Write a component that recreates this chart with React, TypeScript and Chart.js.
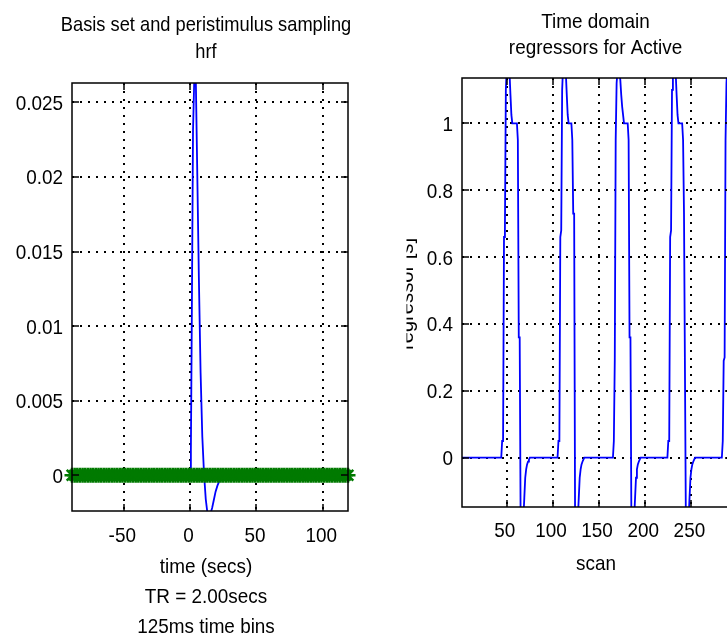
import React, { useEffect, useRef } from "react";
import { Chart, registerables } from "chart.js";

Chart.register(...registerables);

// ---------- Left panel data: basis function (hrf) and peristimulus sampling ----------
const HRF_TIME = [0, 0.6, 1.3, 2.2, 3.2, 4.3, 5.3, 6.6, 7.9, 9.2, 10.5, 11.8, 13.0, 14.3, 15.6, 16.6, 17.8, 19.2, 20.6, 22.0, 24.0, 26.0, 32.0];
const HRF_VALUE = [0, 0.0017, 0.0106, 0.0231, 0.0268, 0.0266, 0.0209, 0.0133, 0.0069, 0.0026, 0.0001, -0.0016, -0.0025, -0.0027, -0.0025, -0.0022, -0.0017, -0.0011, -0.0007, -0.0004, -0.0001, 0, 0];
const PST_TIME = [
  -89, -87, -85, -83, -81, -79, -77, -75, -73, -71, -69, -67, -65, -63, -61, -59, -57, -55, -53, -51,
  -49, -47, -45, -43, -41, -39, -37, -35, -33, -31, -29, -27, -25, -23, -21, -19, -17, -15, -13, -11,
  -9, -7, -5, -3, -1, 1, 3, 5, 7, 9, 11, 13, 15, 17, 19, 21, 23, 25, 27, 29, 31, 33, 35, 37, 39,
  41, 43, 45, 47, 49, 51, 53, 55, 57, 59, 61, 63, 65, 67, 69, 71, 73, 75, 77, 79, 81, 83, 85, 87, 89,
  91, 93, 95, 97, 99, 101, 103, 105, 107, 109, 111, 113, 115, 117, 119,
];
const PST_VALUE = PST_TIME.map(() => 0);
const LEFT_X_TICKS = [-50, 0, 50, 100];
const LEFT_X_LABELS = ["-50", "0", "50", "100"];
const LEFT_Y_TICKS = [0, 0.005, 0.01, 0.015, 0.02, 0.025];
const LEFT_Y_LABELS = ["0", "0.005", "0.01", "0.015", "0.02", "0.025"];
const LEFT_X_RANGE = [-89, 119];
const LEFT_Y_RANGE = [-0.0024, 0.0263];

// ---------- Right panel data: time-domain regressor for "Active" ----------
const SCAN = [
  1, 44, 45, 46, 47, 48, 49, 50, 51, 52, 53, 54, 55, 56,
  61, 62, 63, 64, 65, 66, 67, 68, 69, 70, 71, 72, 73, 74, 75,
  105, 106, 107, 108, 109, 110, 111, 112, 113, 114, 115, 116, 117,
  120, 121, 122, 123, 124, 125, 126, 127, 128, 129, 130, 131, 132, 133, 134,
  165, 166, 167, 168, 169, 170, 171, 172, 173, 174, 175, 176, 177,
  181, 182, 183, 184, 185, 186, 187, 188, 189, 190, 191, 192, 193, 194, 195,
  224, 225, 226, 227, 228, 229, 230, 231, 232, 233, 234, 235, 236,
  240, 241, 242, 243, 244, 245, 246, 247, 248, 249, 250, 251, 252, 253, 254,
  283, 284, 285, 286, 287, 288, 289, 290, 291, 292, 293, 294, 295,
];
const REGRESSOR = [
  0, 0, 0.05, 0.05, 0.66, 0.68, 1.1, 1.17, 1.18, 1.16, 1.15, 1.085, 1.025, 1.0,
  1.0, 0.95, 0.36, 0.36, -0.18, -0.22, -0.22, -0.18, -0.12, -0.06, -0.035, -0.02, -0.012, -0.006, 0,
  0, 0.05, 0.05, 0.66, 0.68, 1.1, 1.17, 1.18, 1.16, 1.15, 1.085, 1.025, 1.0,
  1.0, 0.95, 0.73, 0.73, -0.18, -0.21, -0.22, -0.18, -0.12, -0.06, -0.035, -0.02, -0.012, -0.006, 0,
  0, 0.05, 0.29, 0.95, 1.12, 1.16, 1.18, 1.15, 1.13, 1.085, 1.05, 1.025, 1.0,
  1.0, 0.95, 0.36, 0.36, -0.18, -0.22, -0.22, -0.18, -0.12, -0.06, -0.035, -0.02, -0.012, -0.006, 0,
  0, 0.05, 0.05, 0.66, 0.68, 1.1, 1.17, 1.18, 1.16, 1.15, 1.085, 1.025, 1.0,
  1.0, 0.95, 0.73, 0.73, -0.18, -0.22, -0.22, -0.18, -0.12, -0.06, -0.035, -0.02, -0.012, -0.006, 0,
  0, 0.05, 0.29, 0.3, 0.95, 1.12, 1.17, 1.18, 1.16, 1.15, 1.085, 1.025, 1.0,
];
const RIGHT_X_TICKS = [50, 100, 150, 200, 250];
const RIGHT_X_LABELS = ["50", "100", "150", "200", "250"];
const RIGHT_Y_TICKS = [0, 0.2, 0.4, 0.6, 0.8, 1];
const RIGHT_Y_LABELS = ["0", "0.2", "0.4", "0.6", "0.8", "1"];
const RIGHT_X_RANGE = [1.5, 294];
const RIGHT_Y_RANGE = [-0.1474, 1.1355];

const FONT = '"Liberation Sans", Arial, Helvetica, sans-serif';

type TextItem = { text: string; x: number; y: number; sx: number; align: CanvasTextAlign };

type AxesCfg = {
  xTicks: number[];
  xLabels: string[];
  yTicks: number[];
  yLabels: string[];
  xLabelDx: number;
  xLabelBaseline: number;
  yLabelRight: number;
  texts: TextItem[];
  rotated?: { text: string; x: number; y: number; sx: number; clipLeft: number };
};

function drawText(ctx: CanvasRenderingContext2D, t: TextItem, size = 21) {
  ctx.save();
  ctx.translate(t.x, t.y);
  ctx.scale(t.sx, 1);
  ctx.font = `${size}px ${FONT}`;
  ctx.fillStyle = "#000";
  ctx.textAlign = t.align;
  ctx.textBaseline = "alphabetic";
  ctx.fillText(t.text, 0, 0);
  ctx.restore();
}

function makeAxesPlugin(cfg: AxesCfg) {
  return {
    id: "matlabAxes",
    beforeDatasetsDraw(chart: any) {
      const { ctx, chartArea: a, scales } = chart;
      const xs = scales.x;
      const ys = scales.y;
      ctx.save();
      ctx.strokeStyle = "#000";
      ctx.lineWidth = 2;
      ctx.setLineDash([2, 6]);
      ctx.beginPath();
      cfg.xTicks.forEach((v) => {
        const px = Math.round(xs.getPixelForValue(v));
        if (px < a.left || px > a.right) return;
        ctx.moveTo(px, a.top);
        ctx.lineTo(px, a.bottom);
      });
      cfg.yTicks.forEach((v) => {
        const py = Math.round(ys.getPixelForValue(v));
        if (py < a.top || py > a.bottom) return;
        ctx.moveTo(a.left, py);
        ctx.lineTo(a.right, py);
      });
      ctx.stroke();
      ctx.restore();
    },
    afterDraw(chart: any) {
      const { ctx, chartArea: a, scales } = chart;
      const xs = scales.x;
      const ys = scales.y;
      const tl = 7;
      ctx.save();
      ctx.strokeStyle = "#000";
      ctx.lineWidth = 1.5;
      ctx.setLineDash([]);
      ctx.strokeRect(a.left, a.top, a.right - a.left, a.bottom - a.top);
      ctx.beginPath();
      cfg.xTicks.forEach((v) => {
        const px = Math.round(xs.getPixelForValue(v));
        if (px < a.left || px > a.right) return;
        ctx.moveTo(px, a.bottom);
        ctx.lineTo(px, a.bottom - tl);
        ctx.moveTo(px, a.top);
        ctx.lineTo(px, a.top + tl);
      });
      cfg.yTicks.forEach((v) => {
        const py = Math.round(ys.getPixelForValue(v));
        if (py < a.top || py > a.bottom) return;
        ctx.moveTo(a.left, py);
        ctx.lineTo(a.left + tl, py);
        ctx.moveTo(a.right, py);
        ctx.lineTo(a.right - tl, py);
      });
      ctx.stroke();
      ctx.restore();

      cfg.xTicks.forEach((v, i) => {
        const px = xs.getPixelForValue(v);
        drawText(ctx, { text: cfg.xLabels[i], x: px + cfg.xLabelDx, y: cfg.xLabelBaseline, sx: 0.9, align: "center" });
      });
      cfg.yTicks.forEach((v, i) => {
        const py = ys.getPixelForValue(v);
        drawText(ctx, { text: cfg.yLabels[i], x: cfg.yLabelRight, y: py + 7.5, sx: 0.9, align: "right" });
      });
      cfg.texts.forEach((t) => drawText(ctx, t));

      if (cfg.rotated) {
        const r = cfg.rotated;
        ctx.save();
        ctx.beginPath();
        ctx.rect(r.clipLeft, 0, chart.width, chart.height);
        ctx.clip();
        ctx.translate(r.x, r.y);
        ctx.rotate(-Math.PI / 2);
        ctx.scale(r.sx, 1);
        ctx.font = `21px ${FONT}`;
        ctx.fillStyle = "#000";
        ctx.textAlign = "center";
        ctx.textBaseline = "alphabetic";
        ctx.fillText(r.text, 0, 0);
        ctx.restore();
      }
    },
  };
}

function baseOptions(xr: number[], yr: number[], padding: any) {
  return {
    responsive: false,
    maintainAspectRatio: false,
    devicePixelRatio: 1,
    animation: false as const,
    events: [] as any[],
    layout: { padding },
    plugins: { legend: { display: false }, tooltip: { enabled: false }, title: { display: false } },
    scales: {
      x: { type: "linear" as const, display: false, min: xr[0], max: xr[1] },
      y: { type: "linear" as const, display: false, min: yr[0], max: yr[1] },
    },
  };
}

function LeftPanel() {
  const ref = useRef<HTMLCanvasElement>(null);
  useEffect(() => {
    if (!ref.current) return;
    const plugin = makeAxesPlugin({
      xTicks: LEFT_X_TICKS,
      xLabels: LEFT_X_LABELS,
      yTicks: LEFT_Y_TICKS,
      yLabels: LEFT_Y_LABELS,
      xLabelDx: -1.5,
      xLabelBaseline: 541.5,
      yLabelRight: 63,
      texts: [
        { text: "Basis set and peristimulus sampling", x: 206, y: 31, sx: 0.87, align: "center" },
        { text: "hrf", x: 206, y: 58, sx: 0.87, align: "center" },
        { text: "time (secs)", x: 206, y: 573, sx: 0.9, align: "center" },
        { text: "TR = 2.00secs", x: 206, y: 603, sx: 0.9, align: "center" },
        { text: "125ms time bins", x: 206, y: 633, sx: 0.9, align: "center" },
      ],
    });
    const chart = new Chart(ref.current, {
      type: "line",
      data: {
        datasets: [
          {
            data: PST_TIME.map((t, i) => ({ x: t, y: PST_VALUE[i] })),
            showLine: false,
            pointStyle: "star",
            pointRadius: 7.5,
            pointBorderWidth: 2.5,
            pointBorderColor: "#007a00",
            pointBackgroundColor: "#007a00",
            borderColor: "#007a00",
            clip: 12,
          } as any,
          {
            data: HRF_TIME.map((t, i) => ({ x: t, y: HRF_VALUE[i] })),
            borderColor: "#0000ff",
            borderWidth: 1.8,
            pointRadius: 0,
            tension: 0,
            fill: false,
            clip: 0,
          } as any,
        ],
      },
      options: baseOptions(LEFT_X_RANGE, LEFT_Y_RANGE, { left: 72, top: 83, right: 22, bottom: 128 }) as any,
      plugins: [plugin as any],
    });
    return () => chart.destroy();
  }, []);
  return (
    <canvas
      ref={ref}
      width={370}
      height={639}
      style={{ position: "absolute", left: 0, top: 0, width: 370, height: 639 }}
    />
  );
}

function RightPanel() {
  const ref = useRef<HTMLCanvasElement>(null);
  useEffect(() => {
    if (!ref.current) return;
    const OFF = 380;
    const plugin = makeAxesPlugin({
      xTicks: RIGHT_X_TICKS,
      xLabels: RIGHT_X_LABELS,
      yTicks: RIGHT_Y_TICKS,
      yLabels: RIGHT_Y_LABELS,
      xLabelDx: -2,
      xLabelBaseline: 536.5,
      yLabelRight: 453 - OFF,
      texts: [
        { text: "Time domain", x: 595.5 - OFF, y: 27.5, sx: 0.9, align: "center" },
        { text: "regressors for Active", x: 595.5 - OFF, y: 54, sx: 0.9, align: "center" },
        { text: "scan", x: 596 - OFF, y: 570, sx: 0.9, align: "center" },
      ],
      rotated: { text: "regressor [s]", x: 412.5 - OFF, y: 294, sx: 0.96, clipLeft: 406.5 - OFF },
    });
    const chart = new Chart(ref.current, {
      type: "line",
      data: {
        datasets: [
          {
            data: SCAN.map((s, i) => ({ x: s, y: REGRESSOR[i] })),
            borderColor: "#0000ff",
            borderWidth: 1.8,
            pointRadius: 0,
            tension: 0,
            fill: false,
            clip: 0,
          } as any,
        ],
      },
      options: baseOptions(RIGHT_X_RANGE, RIGHT_Y_RANGE, { left: 82, top: 78, right: 28, bottom: 132 }) as any,
      plugins: [plugin as any],
    });
    return () => chart.destroy();
  }, []);
  return (
    <canvas
      ref={ref}
      width={380}
      height={639}
      style={{ position: "absolute", left: 380, top: 0, width: 380, height: 639 }}
    />
  );
}

export default function App() {
  return (
    <div
      style={{
        position: "fixed",
        left: 0,
        top: 0,
        width: 727,
        height: 639,
        overflow: "hidden",
        background: "#ffffff",
      }}
    >
      <LeftPanel />
      <RightPanel />
    </div>
  );
}
